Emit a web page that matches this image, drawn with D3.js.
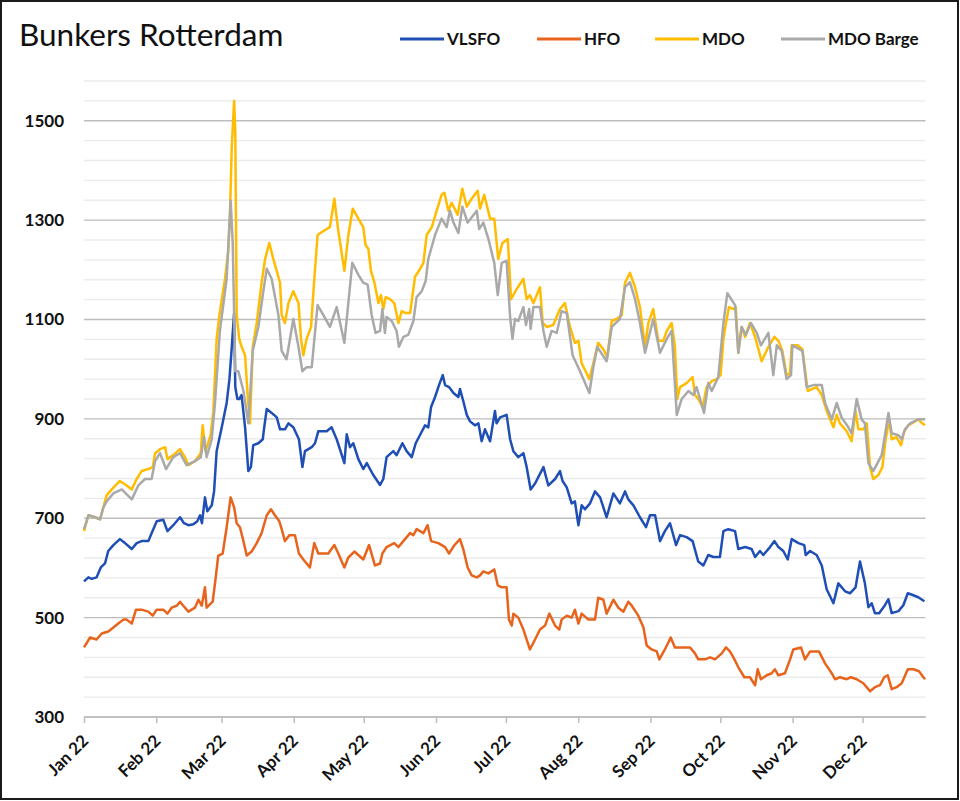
<!DOCTYPE html>
<html><head><meta charset="utf-8">
<script src="https://cdn.jsdelivr.net/npm/d3@7"></script>
<style>
html,body{margin:0;padding:0;background:#fff;}
svg{display:block;font-family:Lato,"Open Sans",sans-serif;}
</style></head>
<body>
<svg id="chart" width="960" height="801"></svg>
<script>
// ---- Data (day offsets from first trading day, 3 Jan 2022; prices USD/t) ----
const seriesNames = ["VLSFO", "HFO", "MDO", "MDO Barge"];
const monthLabels = ["Jan 22","Feb 22","Mar 22","Apr 22","May 22","Jun 22","Jul 22","Aug 22","Sep 22","Oct 22","Nov 22","Dec 22"];
const yTickLabels = [300, 500, 700, 900, 1100, 1300, 1500];

const vlsfoDays = [0,1.9,3.3,5.4,7.2,9,10.4,12.6,15.4,17.6,20.5,22.6,24.7,27.6,29,31.2,34,35.8,38.3,41.2,42.9,44.8,46.9,48.6,49.8,50.6,51.9,52.9,54.8,55.8,56.9,59.1,61.2,62.4,63.4,64.4,64.9,65.8,66.6,67.6,69.1,70.5,71.6,72.6,74.8,76.7,77.2,78.4,80.5,82.7,84.1,86.2,87.7,89.8,
92.2,93.7,94.8,97.7,99.1,100.5,104.1,106.2,108.4,111.7,112.7,114.1,115.5,117.7,119.8,121.3,124.1,127,128.4,129.8,132.7,134.1,136.6,138.4,140.6,142.3,144.1,146.3,147.7,148.9,150.6,152.3,153.9,154.9,156.6,158.5,160.6,161.3,162.7,164.2,165.6,167.7,169.2,170.6,172,174.2,176.3,177,178.5,181.3,182.8,
184.2,186.3,188.5,189.9,191.6,193.5,197.1,199.2,202.1,204.2,205.3,207.1,209.2,210.6,212.1,213.5,214.9,217.1,219.2,221.4,224.2,227.1,229.9,232.1,233.5,235.7,238.5,241.1,242.8,245,247.1,249.2,251.4,254,255.7,258.5,261.1,263.5,265.7,267.8,270,272.8,274.3,276.4,
279.3,280.7,283.6,286.4,287.9,290,291.4,294.3,296.2,297.9,300,301.9,303.6,306.5,309,309.6,311.5,314.3,316.5,318.6,321.5,323.6,326.5,328.6,331,332.9,335,336.5,337.9,339.3,341.1,343.6,345.1,346.5,349.4,351.5,353.4,355.8,357.9,360.5];
const vlsfoValues = [573,581,578,581,601,609,634,646,658,650,638,650,654,654,670,694,697,674,686,702,690,686,688,694,706,690,742,714,726,754,835,883,932,980,1045,1113,964,940,940,948,883,795,803,847,851,859,879,920,912,903,879,879,891,883,
859,803,835,843,851,875,875,883,859,811,869,843,851,819,799,811,787,767,779,823,835,827,851,835,823,851,867,887,883,924,944,968,988,968,964,952,944,960,936,908,895,887,891,855,879,855,916,891,903,908,859,
835,823,831,803,758,770,803,766,779,795,775,762,730,734,686,726,718,730,754,742,702,750,730,754,738,726,702,682,706,706,654,674,690,646,666,662,654,613,605,626,622,622,674,678,
674,638,642,638,622,634,626,642,654,642,634,617,658,650,646,626,634,626,605,557,529,569,553,549,561,613,569,521,529,509,509,525,537,509,513,525,549,545,541,533];

const hfoDays = [0,2.6,5.4,7.6,10.4,12.6,14.7,16.9,18.3,20.5,22.3,24.7,27.6,29.5,31.2,34,35.8,37.6,39.8,41.2,42.6,44.8,47.6,49.1,50.5,51.9,52.6,55.2,56.2,57.6,59.5,61.2,62.9,64.4,65.5,66.9,68.4,69.8,71.9,74.1,76.2,78.4,80.2,81.9,83.8,84.8,86.2,88.1,90.5,
92.2,94.1,96.9,98.8,100.5,104.8,107.4,109.1,111.7,113.4,116,119.8,122.3,124.8,127,128,129.8,133.1,134.9,137,139.9,141.3,142.7,145.6,147.4,148.9,152,154.9,156.6,158.9,161.3,162.7,164.6,166.3,168.5,169.9,171.3,173.5,176,177.5,179.2,181.3,182.3,183.5,
184.2,186.3,188.5,191.3,193.5,195.6,197.8,199.6,202.1,203.9,204.9,207.1,209.2,210.6,212.1,213.5,216.4,219.2,220.6,222.8,224.2,227.1,229.2,231.4,233.5,235,237.8,240,241.4,243.5,245.7,246.8,249.2,251.7,253.5,256.4,260,262.1,263.5,266.4,268.6,270.7,273.6,275.4,
277.1,278.6,280.7,283.3,285.7,287.9,289,290.4,292.9,295,296.4,297.9,300.7,302.9,304.3,307.6,309.3,311.5,315.3,317.9,320.8,322.2,324.3,327.2,329,331.5,334.3,337.2,339.3,341.5,343.3,344.8,346.5,348.6,350.8,353.4,355.8,358.2,360.1,360.8];
const hfoValues = [440,460,456,468,472,480,488,496,496,488,516,516,512,504,516,516,508,520,524,532,524,512,520,536,524,561,520,532,569,625,629,682,742,722,690,682,654,625,633,650,670,706,718,706,694,678,654,666,666,
629,617,601,650,629,629,646,629,601,621,633,617,646,605,609,629,642,650,642,654,670,666,678,670,686,654,650,642,629,646,658,638,601,585,581,585,593,589,597,565,561,561,496,484,
508,500,476,436,456,476,484,508,484,476,496,504,500,516,488,508,496,496,540,536,508,536,520,512,532,524,504,480,444,436,432,416,436,460,440,440,440,428,416,416,420,416,428,440,
432,420,400,380,380,364,396,376,384,388,396,384,388,416,436,440,416,432,432,408,388,376,380,376,380,376,368,352,360,364,380,384,356,360,368,396,396,392,380,376];

const mdoDays = [0,1.9,4.7,6.9,8.3,9.7,11.9,15.4,18.3,20.5,22.6,24.7,27.6,29.5,30.5,32.6,34.8,35.8,38.3,41.2,43.3,44.8,47.6,50.1,50.9,52.1,54.3,55.5,56.9,58.1,60.5,61.9,62.6,63.4,64.4,64.9,65.5,66.6,67.6,69.1,70.2,71.2,72.4,74.1,76.2,77.7,79.5,81.2,84.1,84.8,86.2,87.7,89.8,
92,93.1,94.1,95.5,97.4,98.8,100.2,102.7,105.5,107.4,109.1,111.7,113.4,115.3,117.7,119.8,120.8,122,123.1,124.6,126.3,127.4,128.4,129.4,131.3,133.1,134.9,136.3,138,139.9,142,143.7,145.6,147,149.2,151.3,153.4,154.6,156.3,157.7,160.3,162.3,164.2,166.3,168.9,169.9,171.7,174.2,176,177.7,179.5,181.8,183.2,
185.6,188.5,189.9,191.3,192.8,195.6,196.8,198.5,201.3,204.2,206.3,208.5,210.6,212.1,213.5,216.8,218.5,220.6,222.8,224.5,226.4,228.5,230.7,232.1,234.2,236.4,238.5,240.7,242.1,244.2,246.4,248.5,250,252.1,253.5,254.5,255.7,258.5,261.1,262.1,263.5,265.4,267.1,269.3,271.4,273.1,274.3,275.4,
276.7,278.6,279.6,280.7,282.1,283.6,285.7,287.9,290.7,293.6,296.2,297.9,299.6,301.4,302.9,303.6,306.2,308.2,310.5,312.2,314.3,316.5,318.6,321.5,322.9,324.3,327.2,329.3,331,332.2,334.3,335.8,337.2,338.6,340.8,342.5,343.9,345.4,346.5,348.6,350.5,351.9,353.6,355.8,357.9,359.6,360.8];
const mdoValues = [674,706,702,698,722,746,758,775,766,758,779,795,799,803,831,839,843,819,827,839,823,807,815,831,887,835,867,916,1061,1109,1182,1238,1310,1448,1540,1480,1109,1061,1045,1028,948,891,1045,1093,1174,1222,1254,1222,1174,1109,1093,1133,1157,
1133,1061,1028,1061,1085,1182,1270,1278,1286,1343,1278,1198,1270,1323,1303,1286,1250,1242,1198,1174,1133,1149,1121,1145,1141,1133,1093,1117,1113,1113,1186,1198,1214,1270,1286,1319,1351,1355,1319,1335,1311,1363,1327,1343,1359,1323,1351,1303,1303,1222,1254,1262,1141,
1161,1182,1141,1149,1133,1165,1093,1085,1089,1121,1133,1085,1053,1057,1012,980,1012,1053,1040,1024,1097,1101,1109,1174,1194,1165,1125,1045,1093,1121,1057,1057,1077,1093,1045,940,964,972,984,948,940,924,964,976,980,988,1061,1093,
1125,1121,1125,1033,1085,1065,1093,1065,1016,1045,1065,1057,1037,988,992,1048,1048,1040,956,960,964,948,916,883,908,891,875,855,916,879,879,891,803,779,787,803,859,899,859,863,847,875,887,893,899,891,887];

const bargeDays = [0,1.9,4.7,6.9,8.3,9.7,12.6,16.2,20.5,23.3,26.2,29,30.5,32.6,35.2,38.3,41.2,44,47.6,50.1,51.5,52.6,54.8,56.2,58.3,61.2,62.9,63.8,64.9,66.2,68.4,70.5,72.4,74.8,76.7,78.4,80.5,83.4,84.8,86.9,89.8,
92,93.7,95.5,97.7,100.2,102.7,105.5,108.4,111.7,115.1,117.7,119.8,121.7,123.4,125.1,127,128,129.1,129.8,132,134.1,135.1,137,139.1,141.3,142.7,144.9,146.6,147.7,150.6,153.4,155.6,157,158.5,160.6,162.3,164.6,168.5,169.5,171.3,173.5,176,177.5,179.2,181.3,182.8,183.8,
184.9,186.3,188.5,189.6,191,191.6,192.8,195.6,197.1,198.5,200.6,202.8,204.9,207.1,209.6,212.8,216.8,218.5,220.2,224.2,226.4,229.9,232.1,234.2,236.4,238.5,240.7,244.2,247.1,250,252.1,254.3,256.4,259.3,261.4,262.8,266,267.8,269.3,272.1,274.3,276,
279.3,280.7,282.1,283.9,286.1,288.6,290.4,293.6,295.7,297.2,299.3,301.4,303.3,303.9,308.2,310,312.9,316.5,317.9,320.8,322.9,325,327.9,329.3,331.5,333.6,335,336.5,338.6,342.2,343.6,345.1,346.5,349.4,350.8,352.2,354.4,357.9,360.8];
const bargeValues = [678,706,702,698,722,734,750,758,738,766,779,779,815,831,799,823,831,807,815,823,863,823,859,932,1077,1182,1339,1254,996,996,956,891,1037,1085,1149,1202,1182,1109,1037,1020,1101,
1045,996,1004,1004,1129,1109,1085,1125,1053,1214,1190,1174,1170,1109,1073,1077,1121,1073,1105,1097,1077,1045,1065,1069,1097,1145,1157,1178,1222,1270,1303,1286,1319,1295,1274,1327,1295,1319,1282,1295,1262,1214,1149,1214,1218,1105,1061,
1101,1097,1125,1089,1121,1081,1125,1125,1077,1045,1077,1073,1117,1113,1028,996,952,1004,1045,1016,1085,1101,1165,1175,1141,1093,1033,1101,1033,1061,1077,908,940,956,948,964,912,972,956,984,1093,1153,
1129,1033,1085,1069,1093,1073,1048,1073,988,1048,1037,980,988,1048,1037,964,968,968,932,899,932,903,883,871,940,899,891,811,795,827,867,912,871,867,859,879,891,899,899];

// ---- Chart ----
const svg = d3.select("#chart");
const W = 960, H = 801;
const start = new Date(2022, 0, 3);
const toDate = d => new Date(start.getTime() + d * 864e5);

const x = d3.scaleTime().domain([start, toDate(361)]).range([84, 925.5]);
const y = d3.scaleLinear().domain([300, 1580]).range([717, 81]);

svg.append("rect").attr("x", 0).attr("y", 0).attr("width", W).attr("height", H).attr("fill", "#fff");

// gridlines
const gridVals = d3.range(300, 1581, 40);
svg.append("g").selectAll("line").data(gridVals).join("line")
  .attr("x1", x.range()[0]).attr("x2", x.range()[1])
  .attr("y1", d => y(d)).attr("y2", d => y(d))
  .attr("stroke", d => yTickLabels.includes(d) ? "#bdbdbd" : "#ebebeb")
  .attr("stroke-width", 1.3);

// y labels
const yAxis = d3.axisLeft(y).tickValues(yTickLabels).tickSize(0).tickPadding(0).tickFormat(d3.format("d"));
const gy = svg.append("g").attr("transform", "translate(64,0)").call(yAxis);
gy.select(".domain").remove();
gy.selectAll("text").attr("font-family", "Lato, sans-serif").attr("font-weight", 700)
  .attr("font-size", 17).attr("fill", "#111");

// x axis
const tickDates = monthLabels.map((m, i) => new Date(2022, i, 3));
const xAxis = d3.axisBottom(x).tickValues(tickDates).tickSize(6).tickPadding(0)
  .tickFormat((d, i) => monthLabels[i]);
const gx = svg.append("g").attr("transform", "translate(0,717)").call(xAxis);
gx.select(".domain").attr("stroke", "#bdbdbd").attr("stroke-width", 1.5)
  .attr("d", `M${x.range()[0]},0H${x.range()[1]}`);
gx.selectAll(".tick line").attr("stroke", "#bdbdbd").attr("stroke-width", 1.5);
gx.selectAll("text")
  .attr("font-family", "Lato, sans-serif").attr("font-weight", 700).attr("font-size", 17)
  .attr("fill", "#111").attr("text-anchor", "end").attr("dy", null).attr("y", null)
  .attr("transform", "translate(5,25) rotate(-45)");

// lines
const series = [
  {name: seriesNames[0], days: vlsfoDays, vals: vlsfoValues, color: "#1f4fb5"},
  {name: seriesNames[1], days: hfoDays, vals: hfoValues, color: "#e8641c"},
  {name: seriesNames[2], days: mdoDays, vals: mdoValues, color: "#ffbc00"},
  {name: seriesNames[3], days: bargeDays, vals: bargeValues, color: "#a9a9a9"}
];
const line = d3.line().x(p => x(toDate(p[0]))).y(p => y(p[1]));
svg.append("g").selectAll("path").data(series).join("path")
  .attr("d", s => line(s.days.map((d, i) => [d, s.vals[i]])))
  .attr("fill", "none").attr("stroke", s => s.color).attr("stroke-width", 2.5)
  .attr("stroke-linejoin", "round");

// title
svg.append("text").attr("x", 19).attr("y", 46).text("Bunkers Rotterdam")
  .attr("font-family", "Lato, sans-serif").attr("font-size", 31.5).attr("fill", "#111");

// legend
const legX = [400, 537, 655, 781];
const lg = svg.append("g").selectAll("g").data(series).join("g")
  .attr("transform", (s, i) => `translate(${legX[i]},39)`);
lg.append("line").attr("x1", 0).attr("x2", 44).attr("y1", 0).attr("y2", 0)
  .attr("stroke", s => s.color).attr("stroke-width", 3);
lg.append("text").attr("x", 47).attr("y", 6).text(s => s.name)
  .attr("font-family", "Lato, sans-serif").attr("font-weight", 700).attr("font-size", 17).attr("fill", "#111");

// frame
svg.append("rect").attr("x", 1).attr("y", 1).attr("width", W - 3).attr("height", H - 3)
  .attr("fill", "none").attr("stroke", "#1a1a1a").attr("stroke-width", 2);
</script>
</body></html>
